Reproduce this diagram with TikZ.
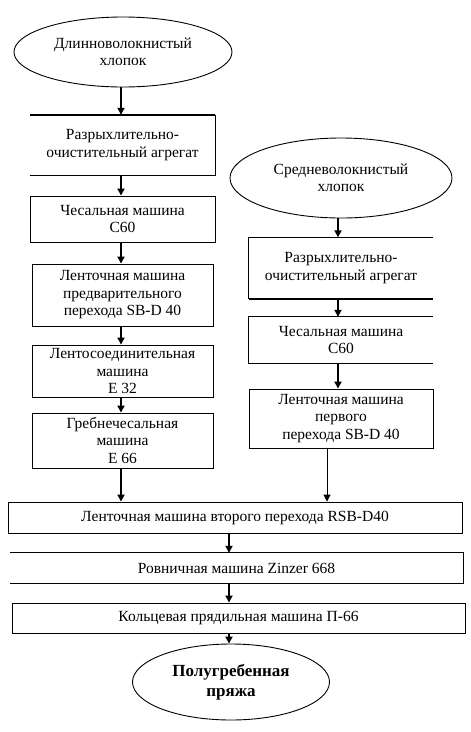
\documentclass[tikz,border=0pt]{standalone}
\usepackage{fontspec}
\setmainfont{Liberation Serif}
\usetikzlibrary{shapes.geometric,arrows.meta}
\begin{document}
\begin{tikzpicture}[x=1pt,y=-1pt,
  txt/.style={font=\fontsize{15.5}{17.5}\selectfont, align=center, inner sep=0pt},
  box/.style={txt, draw, line width=0.9pt},
  bare/.style={txt},
  oval/.style={txt, draw, ellipse, line width=0.9pt},
  arr/.style={line width=1.8pt, -{Triangle[width=7pt,length=7pt]}},
  tarr/.style={line width=0.9pt, -{Triangle[width=7pt,length=7pt]}},
  side/.style={line width=0.9pt},
  heavy/.style={line width=2.2pt}]
\useasboundingbox (0,0) rectangle (471,732);
\fill[white] (0,0) rectangle (471,732);

% left column
\node[oval, minimum width=218, minimum height=70] (le) at (123,52) {Длинноволокнистый\\хлопок};
\node[bare, minimum width=185, minimum height=60] (l1) at (122.5,145) {Разрыхлительно-\\очистительный агрегат};
\draw[side] (l1.north east) -- (l1.south east) -- (l1.south west);
\draw[heavy] (l1.north west) -- (l1.north east);
\node[box, minimum width=185, minimum height=46] (l2) at (122.5,219) {Чесальная машина\\С60};
\node[box, minimum width=181, minimum height=62] (l3) at (122.5,295) {Ленточная машина\\предварительного\\перехода SB-D 40};
\node[box, minimum width=181, minimum height=52] (l4) at (122.5,371) {Лентосоединительная\\машина\\Е 32};
\node[box, minimum width=181, minimum height=55] (l5) at (122.5,440.5) {Гребнечесальная\\машина\\Е 66};

% right column
\node[oval, minimum width=222, minimum height=80] (re) at (341,178) {Средневолокнистый\\хлопок};
\node[bare, minimum width=184, minimum height=61] (r1) at (341,268) {Разрыхлительно-\\очистительный агрегат};
\draw[side] (r1.north east) -- (r1.north west) -- (r1.south west);
\draw[heavy] (r1.south west) -- (r1.south east);
\node[bare, minimum width=184, minimum height=46] (r2) at (341,340) {Чесальная машина\\С60};
\draw[side] (r2.north east) -- (r2.north west) -- (r2.south west) -- (r2.south east);
\node[box, minimum width=184, minimum height=59] (r3) at (341,418.5) {Ленточная машина\\первого\\перехода SB-D 40};

% bottom
\node[box, minimum width=454, minimum height=31] (b1) at (235,517.5) {Ленточная машина второго перехода RSB-D40};
\node[bare, minimum width=453, minimum height=30] (b2) at (236.5,568) {Ровничная машина Zinzer 668};
\draw[side] (b2.north west) -- (b2.north east) -- (b2.south east) -- (b2.south west);
\node[box, minimum width=453, minimum height=30] (b3) at (238.5,618) {Кольцевая прядильная машина П-66};
\node[oval, minimum width=197, minimum height=76, font=\bfseries\fontsize{17}{20}\selectfont] (fin) at (231,682) {Полугребенная\\пряжа};

% connectors
\coordinate (cl) at (121,0);
\coordinate (cr) at (338,0);
\coordinate (ct) at (327,0);
\coordinate (cb) at (229,0);
\draw[arr] (le.south -| cl) -- (l1.north -| cl);
\draw[arr] (l1.south -| cl) -- (l2.north -| cl);
\draw[arr] (l2.south -| cl) -- (l3.north -| cl);
\draw[arr] (l3.south -| cl) -- (l4.north -| cl);
\draw[arr] (l4.south -| cl) -- (l5.north -| cl);
\draw[arr] (l5.south -| cl) -- (b1.north -| cl);
\draw[arr] (re.south -| cr) -- (r1.north -| cr);
\draw[arr] (r1.south -| cr) -- (r2.north -| cr);
\draw[arr] (r2.south -| cr) -- (r3.north -| cr);
\draw[tarr] (r3.south -| ct) -- (b1.north -| ct);
\draw[arr] (b1.south -| cb) -- (b2.north -| cb);
\draw[arr] (b2.south -| cb) -- (b3.north -| cb);
\draw[arr] (b3.south -| cb) -- (fin.north -| cb);
\end{tikzpicture}
\end{document}
